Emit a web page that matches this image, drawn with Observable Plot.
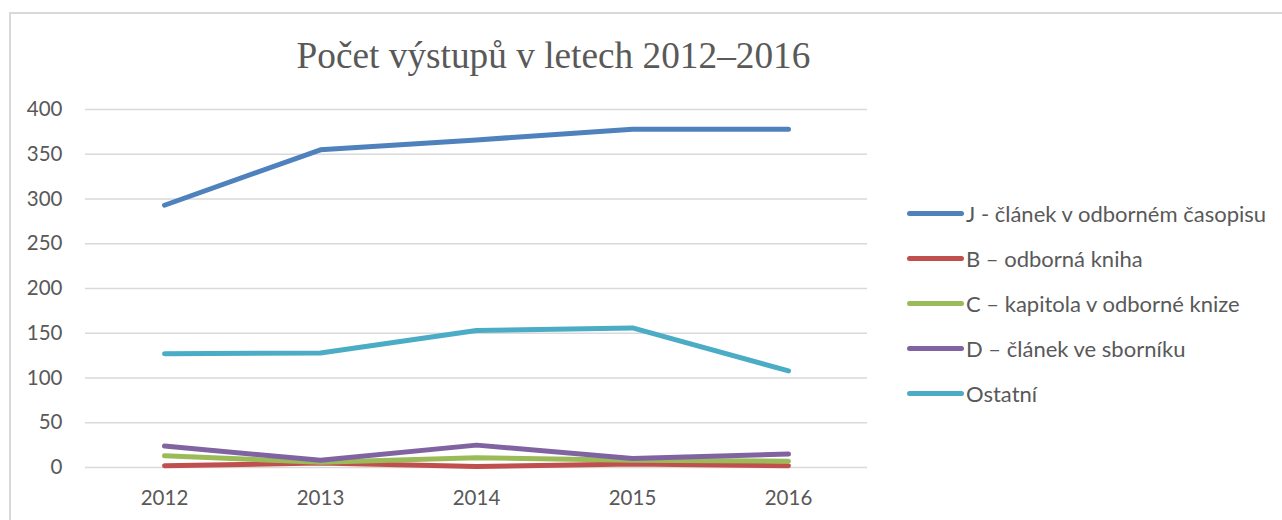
<!DOCTYPE html>
<html>
<head>
<meta charset="utf-8">
<script src="https://cdn.jsdelivr.net/npm/d3@7"></script>
<script src="https://cdn.jsdelivr.net/npm/@observablehq/plot@0.6"></script>
<style>
  html, body { margin: 0; padding: 0; background: #fff; }
  #wrap { position: relative; width: 1282px; height: 520px; overflow: hidden; }
  #frame { position: absolute; left: 9px; top: 12px; width: 1300px; height: 540px; border: 2px solid #d9d9d9; box-sizing: border-box; }
  #title { position: absolute; left: 0; width: 1107px; top: 34px; text-align: center; font-family: "Liberation Serif", serif; font-size: 37.3px; color: #595959; white-space: nowrap; }
  #legend { position: absolute; left: 907px; top: 191px; font-family: Lato, "Open Sans", sans-serif; font-size: 22px; color: #595959; }
  .item { display: flex; align-items: center; height: 45px; white-space: nowrap; }
  .swatch { width: 57px; height: 5px; border-radius: 3px; margin-right: 2px; }
  #chart { position: absolute; left: 0; top: 0; }
</style>
</head>
<body>
<div id="wrap">
  <div id="frame"></div>
  <div id="chart"></div>
  <div id="title">Počet výstupů v letech 2012–2016</div>
  <div id="legend"></div>
</div>
<script>
const years = ["2012", "2013", "2014", "2015", "2016"];
const seriesNames = [
  "J - článek v odborném časopisu",
  "B – odborná kniha",
  "C – kapitola v odborné knize",
  "D – článek ve sborníku",
  "Ostatní"
];
const seriesColors = ["#4F81BD", "#C0504D", "#9BBB59", "#8064A2", "#4BACC6"];
const valuesJ = [293, 355, 366, 378, 378];
const valuesB = [2, 5, 1, 4, 2];
const valuesC = [13, 6, 11, 8, 7];
const valuesD = [24, 8, 25, 10, 15];
const valuesOstatni = [127, 128, 153, 156, 108];
const yTicks = [0, 50, 100, 150, 200, 250, 300, 350, 400];

const allValues = [valuesJ, valuesB, valuesC, valuesD, valuesOstatni];
const data = [];
seriesNames.forEach((name, i) => {
  years.forEach((yr, j) => data.push({series: name, year: yr, value: allValues[i][j]}));
});

const chart = Plot.plot({
  width: 1282,
  height: 520,
  marginLeft: 85,
  marginRight: 415,
  marginTop: 109,
  marginBottom: 53,
  style: {fontFamily: "Lato, 'Open Sans', sans-serif", fontSize: "20.5px", color: "#595959", background: "transparent"},
  x: {type: "point", domain: years, padding: 0.5, label: null, tickSize: 0, tickPadding: 23},
  y: {domain: [0, 400], ticks: yTicks, label: null, tickSize: 0, tickPadding: 23},
  color: {domain: seriesNames, range: seriesColors},
  marks: [
    Plot.ruleY(yTicks, {stroke: "#d9d9d9", strokeWidth: 1.5}),
    Plot.line(data, {x: "year", y: "value", z: "series", stroke: "series", strokeWidth: 5, strokeLinecap: "round", strokeLinejoin: "round"})
  ]
});
document.getElementById("chart").appendChild(chart);

const legend = document.getElementById("legend");
seriesNames.forEach((name, i) => {
  const item = document.createElement("div");
  item.className = "item";
  const sw = document.createElement("div");
  sw.className = "swatch";
  sw.style.background = seriesColors[i];
  const label = document.createElement("span");
  label.textContent = name;
  item.appendChild(sw);
  item.appendChild(label);
  legend.appendChild(item);
});
</script>
</body>
</html>
